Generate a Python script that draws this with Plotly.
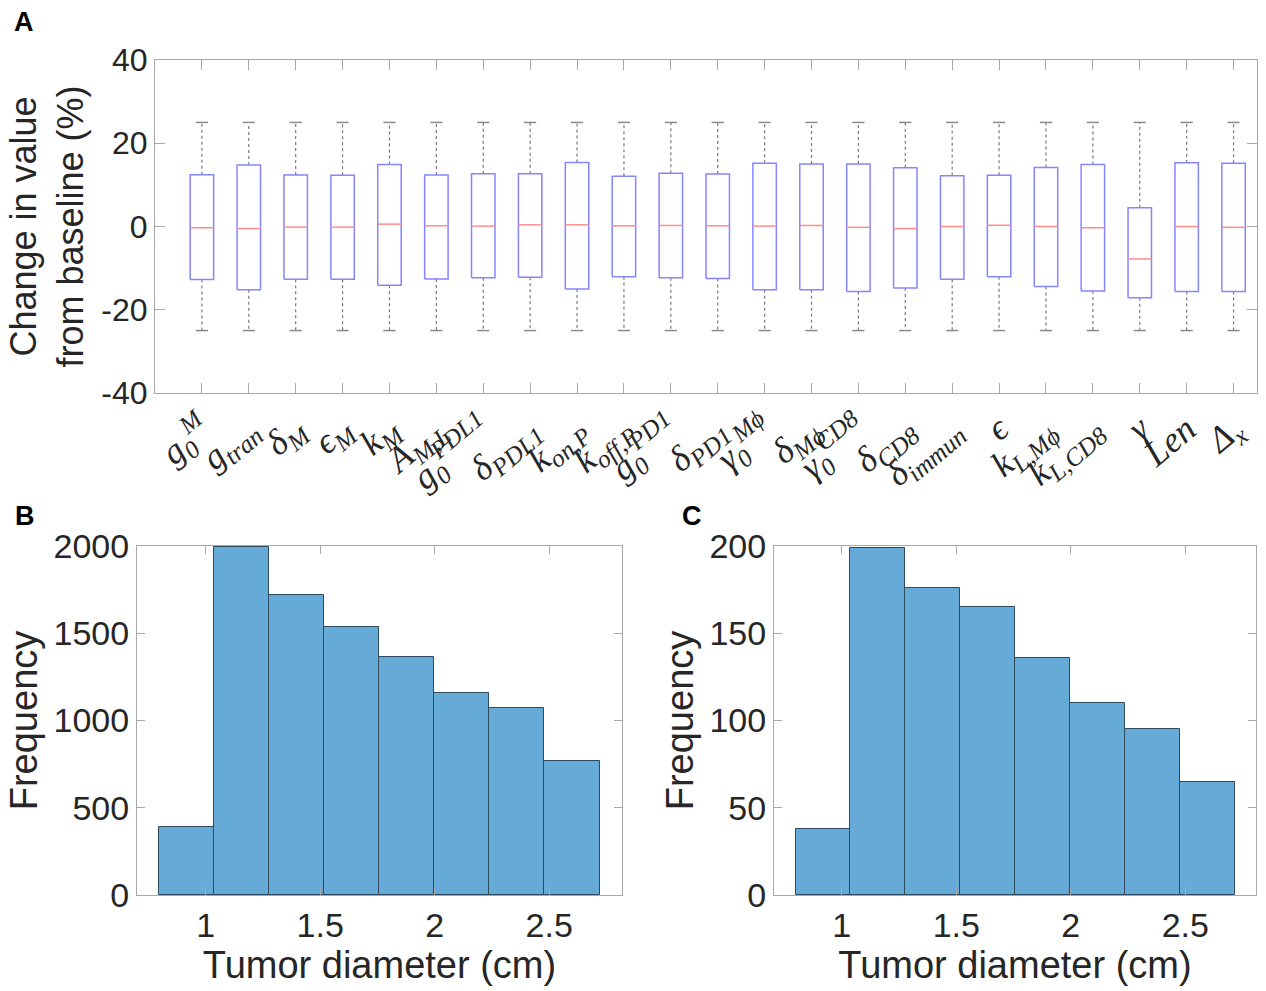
import plotly.graph_objects as go

W, H = 1266, 991

# ---------------- Panel A data ----------------
param_labels = [
    "g<sub>0</sub><sup>M</sup>", "g<sub>tran</sub>", "δ<sub>M</sub>", "ϵ<sub>M</sub>",
    "k<sub>M</sub>", "A<sub>M,L</sub>", "g<sub>0</sub><sup>PDL1</sup>", "δ<sub>PDL1</sub>",
    "k<sub>on,P</sub>", "k<sub>off,P</sub>", "g<sub>0</sub><sup>PD1</sup>", "δ<sub>PD1</sub>",
    "γ<sub>0</sub><sup>Mϕ</sup>", "δ<sub>Mϕ</sub>", "γ<sub>0</sub><sup>CD8</sup>", "δ<sub>CD8</sub>",
    "δ<sub>immun</sub>", "ϵ", "k<sub>L,Mϕ</sub>", "k<sub>L,CD8</sub>", "γ", "Len", "Δ<sub>x</sub>",
]
q3 = [12.45, 14.8, 12.4, 12.3, 14.9, 12.4, 12.7, 12.7, 15.35, 12.05, 12.8, 12.6,
      15.2, 15.0, 15.0, 14.1, 12.2, 12.3, 14.2, 14.9, 4.5, 15.3, 15.2]
q1 = [-12.75, -15.2, -12.7, -12.7, -14.1, -12.6, -12.3, -12.2, -15.0, -12.05, -12.3, -12.5,
      -15.2, -15.2, -15.6, -14.8, -12.7, -12.1, -14.4, -15.5, -17.1, -15.6, -15.6]
medians = [-0.3, -0.5, -0.15, -0.15, 0.57, 0.17, 0.1, 0.4, 0.4, 0.17, 0.25, 0.17,
           0.1, 0.25, -0.2, -0.5, 0.0, 0.3, 0.0, -0.3, -7.8, 0.0, -0.2]
whisker_low = [-25] * 23
whisker_high = [25] * 23
y_ticks_A = [-40, -20, 0, 20, 40]

# ---------------- Panel B / C data ----------------
edges_B = [0.796, 1.036, 1.276, 1.517, 1.758, 1.998, 2.239, 2.479, 2.720]
counts_B = [392, 1995, 1719, 1535, 1366, 1155, 1073, 769]
edges_C = [0.798, 1.038, 1.278, 1.518, 1.758, 1.998, 2.238, 2.477, 2.717]
counts_C = [38, 199, 176, 165, 136, 110, 95, 65]
x_ticks_hist = [1, 1.5, 2, 2.5]
y_ticks_B = [0, 500, 1000, 1500, 2000]
y_ticks_C = [0, 50, 100, 150, 200]

# ---------------- styles ----------------
AX_COLOR = "#a8a8a8"
TXT = "#262626"
SANS = "Liberation Sans, Arial, sans-serif"
SERIF = "Liberation Serif, DejaVu Serif, serif"
BOX_W = 0.25
CAP_W = 0.13

fig = go.Figure()

pos = list(range(1, len(param_labels) + 1))
bx, by, mx, my, wx, wy, cx, cy = [], [], [], [], [], [], [], []
for p, a, b, m, lo, hi in zip(pos, q1, q3, medians, whisker_low, whisker_high):
    bx += [p - BOX_W, p + BOX_W, p + BOX_W, p - BOX_W, p - BOX_W, None]
    by += [a, a, b, b, a, None]
    mx += [p - BOX_W, p + BOX_W, None]
    my += [m, m, None]
    wx += [p, p, None, p, p, None]
    wy += [b, hi, None, a, lo, None]
    cx += [p - CAP_W, p + CAP_W, None, p - CAP_W, p + CAP_W, None]
    cy += [hi, hi, None, lo, lo, None]

fig.add_trace(go.Scatter(x=wx, y=wy, mode="lines", xaxis="x", yaxis="y",
                         line=dict(color="#7a7a7a", width=1.2, dash="dot"),
                         hoverinfo="skip", showlegend=False))
fig.add_trace(go.Scatter(x=cx, y=cy, mode="lines", xaxis="x", yaxis="y",
                         line=dict(color="#8a8a8a", width=1.5),
                         hoverinfo="skip", showlegend=False))
fig.add_trace(go.Scatter(x=bx, y=by, mode="lines", xaxis="x", yaxis="y",
                         line=dict(color="#8585ff", width=1.5),
                         showlegend=False))
fig.add_trace(go.Scatter(x=mx, y=my, mode="lines", xaxis="x", yaxis="y",
                         line=dict(color="#ff8c8c", width=1.5),
                         showlegend=False))


def hist_trace(edges, counts, xa, ya):
    centers = [(edges[i] + edges[i + 1]) / 2 for i in range(len(counts))]
    widths = [edges[i + 1] - edges[i] for i in range(len(counts))]
    return go.Bar(x=centers, y=counts, width=widths, xaxis=xa, yaxis=ya,
                  marker=dict(color="#66aad7", line=dict(color="#2e4a5e", width=1)),
                  showlegend=False)


fig.add_trace(hist_trace(edges_B, counts_B, "x2", "y2"))
fig.add_trace(hist_trace(edges_C, counts_C, "x3", "y3"))


def xd(a, b):
    return [a / W, b / W]


def yd(top, bottom):
    return [1 - bottom / H, 1 - top / H]


def fmt(v):
    return ("-" if v < 0 else "") + ("%g" % abs(v))


common = dict(showline=True, linecolor=AX_COLOR, linewidth=1, mirror="ticks",
              ticks="inside", tickcolor=AX_COLOR, showgrid=False, zeroline=False,
              automargin=False)

fig.update_layout(
    width=W, height=H, margin=dict(l=0, r=0, t=0, b=0),
    paper_bgcolor="white", plot_bgcolor="white", bargap=0,
    xaxis=dict(domain=xd(155, 1257), range=[0, 23.5], tickvals=pos,
               ticktext=["<i>" + s + "</i>" for s in param_labels], tickangle=-40,
               ticklen=10, tickfont=dict(family=SERIF, size=36, color=TXT),
               anchor="y", **common),
    yaxis=dict(domain=yd(60, 393), range=[-40, 40], tickvals=y_ticks_A,
               ticktext=[fmt(v) for v in y_ticks_A],
               ticklen=10, tickfont=dict(family=SANS, size=32, color=TXT),
               title=dict(text="Change in value<br>from baseline (%)",
                          font=dict(family=SANS, size=36, color=TXT), standoff=6),
               anchor="x", **common),
    xaxis2=dict(domain=xd(137, 622), range=[0.70, 2.818], tickvals=x_ticks_hist,
                ticktext=[fmt(v) for v in x_ticks_hist], ticklen=8,
                tickfont=dict(family=SANS, size=34, color=TXT),
                title=dict(text="Tumor diameter (cm)", font=dict(family=SANS, size=38, color=TXT),
                           standoff=6),
                anchor="y2", **common),
    yaxis2=dict(domain=yd(546, 895), range=[0, 2000], tickvals=y_ticks_B,
                ticktext=[fmt(v) for v in y_ticks_B],
                ticklen=8, tickfont=dict(family=SANS, size=34, color=TXT),
                title=dict(text="Frequency", font=dict(family=SANS, size=38, color=TXT),
                           standoff=4),
                anchor="x2", **common),
    xaxis3=dict(domain=xd(774, 1256), range=[0.704, 2.809], tickvals=x_ticks_hist,
                ticktext=[fmt(v) for v in x_ticks_hist], ticklen=8,
                tickfont=dict(family=SANS, size=34, color=TXT),
                title=dict(text="Tumor diameter (cm)", font=dict(family=SANS, size=38, color=TXT),
                           standoff=6),
                anchor="y3", **common),
    yaxis3=dict(domain=yd(546, 895), range=[0, 200], tickvals=y_ticks_C,
                ticktext=[fmt(v) for v in y_ticks_C],
                ticklen=8, tickfont=dict(family=SANS, size=34, color=TXT),
                title=dict(text="Frequency", font=dict(family=SANS, size=38, color=TXT),
                           standoff=4),
                anchor="x3", **common),
)

for label, x, y in [("A", 12, 5), ("B", 13, 499), ("C", 680, 499)]:
    fig.add_annotation(text="<b>" + label + "</b>", x=x / W, y=1 - y / H,
                       xref="paper", yref="paper", xanchor="left", yanchor="top",
                       showarrow=False, font=dict(family=SANS, size=27, color="black"))

fig.write_html("out.html")
